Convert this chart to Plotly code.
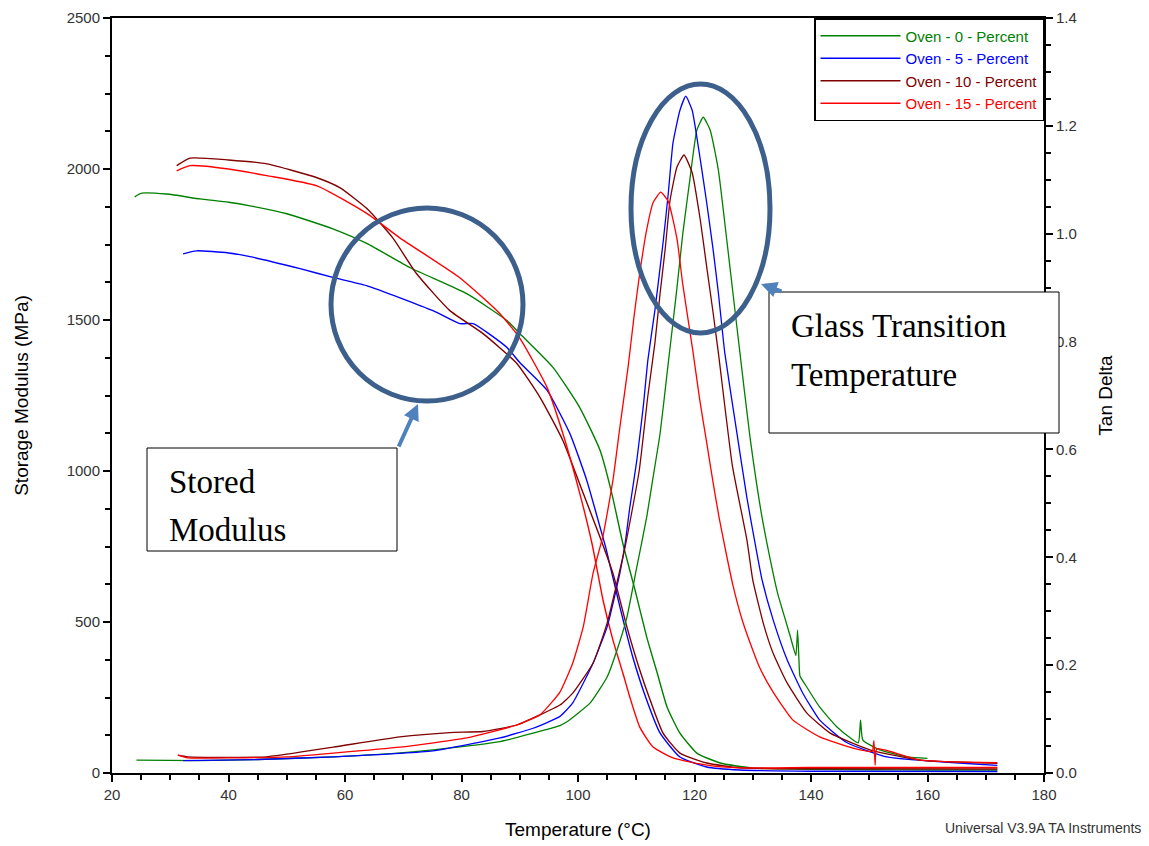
import plotly.graph_objects as go

# ---------------- data ----------------
series_names = ["Oven - 0 - Percent", "Oven - 5 - Percent", "Oven - 10 - Percent", "Oven - 15 - Percent"]
series_colors = ["#008000", "#0000FF", "#800000", "#FF0000"]

# Storage modulus (MPa) vs temperature (°C)
sm0_t = [23.9, 25.1, 29.4, 35.1, 40, 43.7, 50, 57.9, 63.8, 71.2, 80.9, 87.8, 90, 95.7, 100.3, 103.8, 105.8, 107.7, 109.8, 111.8, 113.6, 115.3, 117.5, 120.4, 124.4, 129.7, 140, 150, 160, 172]
sm0_v = [1908, 1920, 1917, 1901, 1890, 1878, 1852, 1802, 1753, 1673, 1587, 1498, 1455, 1343, 1210, 1068, 926, 760, 605, 450, 331, 218, 132, 66, 33, 17, 12, 11, 10, 10]

sm5_t = [32.2, 34.5, 40, 43.7, 52.3, 57.9, 63.7, 75.1, 79.7, 82, 87.8, 90, 94.7, 98.6, 101.5, 103.8, 104.8, 107.2, 109.4, 111.8, 114.1, 117.5, 122.1, 127.8, 140, 172]
sm5_v = [1719, 1729, 1722, 1710, 1670, 1641, 1614, 1531, 1488, 1488, 1409, 1359, 1267, 1124, 969, 813, 744, 549, 384, 241, 132, 53, 20, 10, 6, 5]

sm10_t = [31.1, 33.4, 40, 46.6, 55.2, 59.1, 63.8, 68.2, 72.3, 78, 83.7, 89.5, 93.5, 97.4, 100.9, 103.8, 106, 108.4, 110.6, 112.4, 114.6, 117.5, 122.1, 127.8, 140, 172]
sm10_v = [2011, 2036, 2030, 2017, 1971, 1938, 1868, 1772, 1653, 1531, 1455, 1356, 1243, 1101, 926, 780, 661, 483, 341, 241, 132, 66, 33, 17, 14, 13]

sm15_t = [31.1, 33.4, 40, 46.6, 55.2, 63.8, 69.4, 79.7, 86.6, 90, 94.7, 97.4, 100.3, 102.4, 104.3, 106, 107.7, 108.9, 110.6, 112.9, 116.3, 122.1, 127.8, 140, 172]
sm15_v = [1994, 2011, 2000, 1978, 1944, 1852, 1772, 1640, 1521, 1440, 1276, 1124, 926, 760, 572, 440, 331, 251, 152, 86, 50, 26, 17, 18, 18]

# Tan delta vs temperature (°C)
td0_t = [24.2, 35, 45, 58, 68, 75.1, 86.6, 92.3, 96.9, 98.1, 102.1, 105, 106.7, 108.4, 110.1, 111.8, 112.9, 114.1, 115.3, 116.3, 117, 118, 119.2, 120.4, 121.5, 122.7, 124.1, 125.6, 126.6, 127.8, 129.5, 131.5, 133.5, 134.3, 136.4, 137.4, 137.7, 138.0, 138.1, 139.3, 141.5, 144.5, 148.1, 148.5, 148.9, 151.8, 156.5, 160]
td0_v = [0.024, 0.023, 0.025, 0.030, 0.036, 0.043, 0.058, 0.074, 0.088, 0.095, 0.130, 0.178, 0.228, 0.289, 0.382, 0.475, 0.549, 0.630, 0.742, 0.835, 0.901, 1.001, 1.100, 1.192, 1.216, 1.192, 1.118, 0.983, 0.890, 0.779, 0.625, 0.480, 0.370, 0.332, 0.255, 0.218, 0.265, 0.192, 0.180, 0.159, 0.122, 0.085, 0.056, 0.098, 0.061, 0.043, 0.030, 0.027]

td5_t = [32.2, 45, 58, 75.1, 86.6, 92.3, 96.9, 99.1, 102.6, 105, 107.2, 108.1, 108.9, 110.1, 111.2, 112, 113.2, 114.6, 115.5, 116.3, 117.5, 118.5, 119.6, 121, 122.1, 123.2, 124.1, 125.2, 127, 129, 130.7, 131.6, 133.5, 135.9, 138.6, 141.5, 146.2, 153, 172]
td5_v = [0.023, 0.025, 0.030, 0.041, 0.065, 0.083, 0.105, 0.130, 0.204, 0.271, 0.371, 0.426, 0.493, 0.580, 0.679, 0.766, 0.858, 0.983, 1.075, 1.168, 1.229, 1.255, 1.229, 1.137, 1.057, 0.970, 0.890, 0.779, 0.650, 0.510, 0.408, 0.358, 0.284, 0.210, 0.148, 0.098, 0.056, 0.030, 0.014]

td10_t = [31.3, 33, 46.6, 58, 69.4, 78, 83.7, 89.5, 93.5, 96.9, 99.1, 102.6, 105, 108.1, 110.5, 112, 113.2, 114.1, 115, 115.8, 117, 118.2, 119.6, 121, 122.1, 123.2, 124.1, 126.5, 129, 130, 131.8, 133.5, 135.9, 139.3, 143.3, 150.1, 158.7, 172]
td10_v = [0.033, 0.030, 0.030, 0.048, 0.067, 0.075, 0.077, 0.089, 0.108, 0.126, 0.148, 0.204, 0.278, 0.420, 0.560, 0.700, 0.797, 0.890, 0.975, 1.062, 1.124, 1.146, 1.113, 1.025, 0.938, 0.853, 0.779, 0.570, 0.432, 0.358, 0.278, 0.222, 0.167, 0.111, 0.074, 0.043, 0.024, 0.018]

td15_t = [31.3, 33, 40.8, 50, 58, 69.4, 80.9, 89.5, 93.5, 96.9, 99.1, 100.9, 102.6, 104.3, 106, 107.2, 108.6, 109.6, 110.6, 111.8, 112.9, 114.2, 115.5, 117, 118, 119.7, 120.9, 122.1, 123.2, 124.2, 125.2, 126.6, 128.3, 130, 131.2, 133.5, 136.9, 141.5, 147.2, 150.5, 150.8, 151.0, 151.3, 158.7, 172]
td15_v = [0.033, 0.028, 0.028, 0.030, 0.037, 0.048, 0.065, 0.089, 0.108, 0.150, 0.204, 0.271, 0.371, 0.440, 0.543, 0.642, 0.753, 0.845, 0.927, 1.008, 1.058, 1.077, 1.060, 0.990, 0.905, 0.784, 0.692, 0.612, 0.538, 0.475, 0.420, 0.348, 0.280, 0.228, 0.195, 0.150, 0.098, 0.067, 0.046, 0.040, 0.060, 0.015, 0.045, 0.024, 0.019]

storage = [(sm0_t, sm0_v), (sm5_t, sm5_v), (sm10_t, sm10_v), (sm15_t, sm15_v)]
tandelta = [(td0_t, td0_v), (td5_t, td5_v), (td10_t, td10_v), (td15_t, td15_v)]

# ---------------- figure ----------------
fig = go.Figure()
for i, (name, col) in enumerate(zip(series_names, series_colors)):
    t, v = storage[i]
    fig.add_trace(go.Scatter(
        x=t, y=v, mode="lines", line=dict(color=col, width=1.4, shape="spline", smoothing=0.5),
        name='<span style="color:%s">%s</span>' % (col, name), legendgroup=name, showlegend=True,
        yaxis="y"))
for i, (name, col) in enumerate(zip(series_names, series_colors)):
    t, v = tandelta[i]
    fig.add_trace(go.Scatter(
        x=t, y=v, mode="lines", line=dict(color=col, width=1.3, shape="spline", smoothing=0.45),
        name=name, legendgroup=name, showlegend=False, yaxis="y2"))

L, R, T, B = 112, 1044, 18, 773
W, H = 1149, 846
def px(xp):
    return (xp - L) / (R - L)
def py(yp):
    return (B - yp) / (B - T)

font_sans = "Liberation Sans, Arial, sans-serif"
font_serif = "Liberation Serif, Times New Roman, serif"
tick_font = dict(family=font_sans, size=15, color="#333333")

circle_col = "#3C5F8C"
shapes = [
    dict(type="circle", xref="paper", yref="paper", x0=px(331), x1=px(523), y0=py(401), y1=py(208),
         line=dict(color=circle_col, width=5), layer="above"),
    dict(type="circle", xref="paper", yref="paper", x0=px(631), x1=px(770), y0=py(333), y1=py(84),
         line=dict(color=circle_col, width=5), layer="above"),
    dict(type="rect", xref="paper", yref="paper", x0=px(147), x1=px(397), y0=py(551), y1=py(448),
         line=dict(color="black", width=1), fillcolor="white", layer="above"),
    dict(type="rect", xref="paper", yref="paper", x0=px(769), x1=px(1059), y0=py(433), y1=py(292),
         line=dict(color="black", width=1), fillcolor="white", layer="above"),
]

arrow_col = "#4F81BD"
annotations = [
    dict(text="Stored", x=px(167), y=py(482), xref="paper", yref="paper", xanchor="left", yanchor="middle",
         showarrow=False, font=dict(family=font_serif, size=33, color="black")),
    dict(text="Modulus", x=px(167), y=py(530), xref="paper", yref="paper", xanchor="left", yanchor="middle",
         showarrow=False, font=dict(family=font_serif, size=33, color="black")),
    dict(text="Glass Transition", x=px(789), y=py(326), xref="paper", yref="paper", xanchor="left", yanchor="middle",
         showarrow=False, font=dict(family=font_serif, size=33, color="black")),
    dict(text="Temperature", x=px(789), y=py(375), xref="paper", yref="paper", xanchor="left", yanchor="middle",
         showarrow=False, font=dict(family=font_serif, size=33, color="black")),
    dict(text="", x=px(418), y=py(404), xref="paper", yref="paper", ax=-20, ay=44,
         showarrow=True, arrowhead=2, arrowsize=0.8, arrowwidth=4, arrowcolor=arrow_col),
    dict(text="", x=px(761), y=py(284), xref="paper", yref="paper", ax=22, ay=8,
         showarrow=True, arrowhead=2, arrowsize=0.8, arrowwidth=4, arrowcolor=arrow_col),
    dict(text="Universal V3.9A TA Instruments", x=px(1143), y=py(828), xref="paper", yref="paper",
         xanchor="right", yanchor="middle", showarrow=False, font=dict(family=font_sans, size=14, color="#333333")),
]

fig.update_layout(
    width=W, height=H,
    margin=dict(l=L, r=W - R, t=T, b=H - B, pad=0, autoexpand=False),
    paper_bgcolor="white", plot_bgcolor="white",
    font=dict(family=font_sans),
    xaxis=dict(range=[20, 180], dtick=20, tick0=20, showgrid=False, zeroline=False, automargin=False,
               showline=True, linecolor="black", linewidth=2, mirror=True,
               ticks="outside", ticklen=7, tickwidth=1.5, tickcolor="black", tickfont=tick_font,
               minor=dict(dtick=5, ticks="outside", ticklen=5, tickwidth=1.5, tickcolor="black"),
               title=dict(text="Temperature (°C)", font=dict(family=font_sans, size=19, color="black"), standoff=21)),
    yaxis=dict(range=[0, 2500], dtick=500, showgrid=False, zeroline=False, automargin=False,
               showline=True, linecolor="black", linewidth=2,
               ticks="outside", ticklen=7, tickwidth=1.5, tickcolor="black", tickfont=tick_font,
               minor=dict(dtick=125, ticks="outside", ticklen=5, tickwidth=1.5, tickcolor="black"),
               title=dict(text="Storage Modulus (MPa)", font=dict(family=font_sans, size=19, color="black"), standoff=33)),
    yaxis2=dict(range=[0, 1.4], dtick=0.2, tickformat=".1f", overlaying="y", side="right", showgrid=False, zeroline=False,
                automargin=False, showline=True, linecolor="black", linewidth=2,
                ticks="outside", ticklen=7, tickwidth=1.5, tickcolor="black", tickfont=tick_font,
                minor=dict(dtick=0.05, ticks="outside", ticklen=5, tickwidth=1.5, tickcolor="black"),
                title=dict(text="Tan Delta", font=dict(family=font_sans, size=19, color="black"), standoff=23)),
    legend=dict(x=1, y=1, xanchor="right", yanchor="top", bgcolor="white", bordercolor="black", borderwidth=1.5,
                font=dict(family=font_sans, size=15), itemwidth=80, tracegroupgap=0),
    shapes=shapes, annotations=annotations,
)

fig.write_html("out.html")
